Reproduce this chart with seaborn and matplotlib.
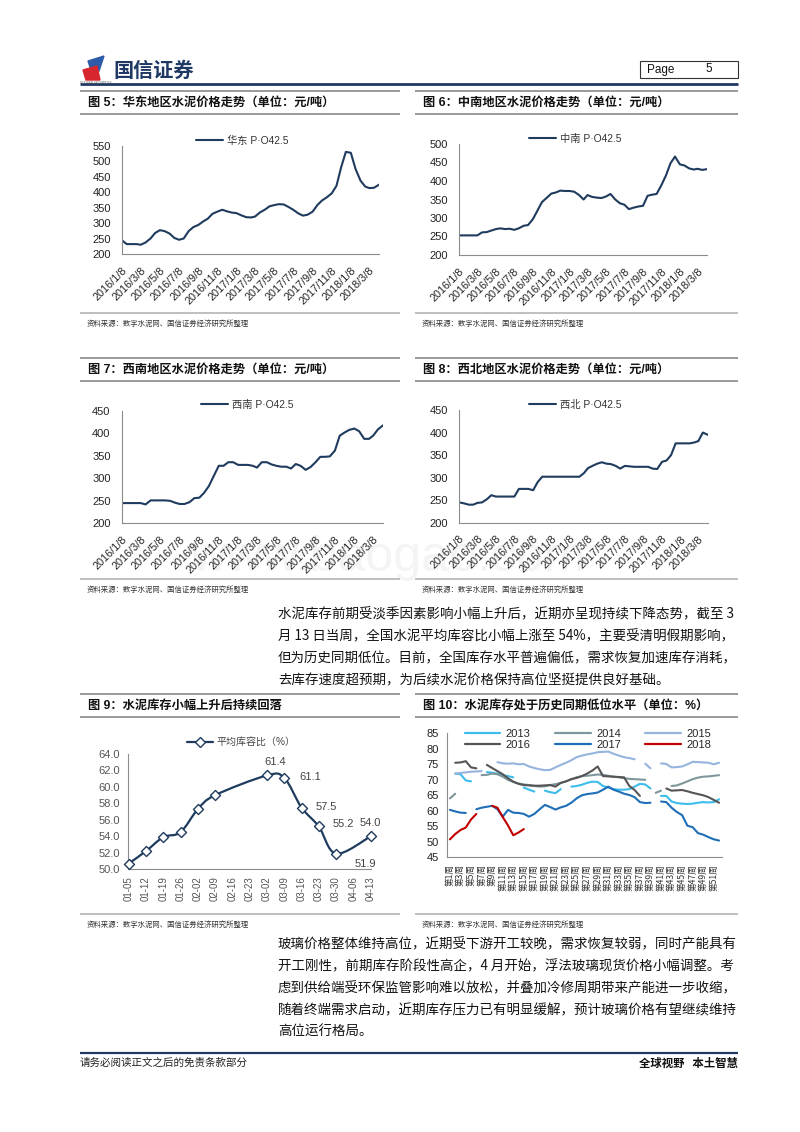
import numpy as np
import pandas as pd
import matplotlib
matplotlib.use("Agg")
import matplotlib.pyplot as plt
from matplotlib.lines import Line2D
from matplotlib.patches import Rectangle, Polygon, PathPatch
from matplotlib.path import Path
import seaborn as sns

sns.set_theme(style="white")
plt.rcParams['font.family'] = ['Liberation Sans', 'Noto Sans CJK SC', 'DejaVu Sans']
plt.rcParams['axes.unicode_minus'] = False

nan = np.nan

# ---------------- data ----------------
PRICE_DATES = [f"{y}-{m:02d}-{d:02d}" for y in (2016, 2017, 2018) for m in range(1, 13)
               for d in (8, 23) if (y, m) <= (2018, 3)] + ["2018-04-08"]
TICK_DATES = [f"{y}-{m:02d}-08" for y in (2016, 2017, 2018) for m in (1, 3, 5, 7, 9, 11)
              if (y, m) <= (2018, 3)]

EAST = [244, 232, 232, 232, 230, 237, 250, 268, 277, 274, 266, 252, 246, 250, 274, 287, 294, 305, 314, 330, 337, 343, 338, 334,
        332, 325, 319, 318, 321, 334, 343, 354, 358, 361, 360, 352, 343, 332, 324, 327, 337, 358, 373, 383, 396, 420, 480, 530,
        527, 475, 437, 418, 413, 414, 424]
CENTRAL_SOUTH = [253, 253, 253, 253, 253, 261, 262, 266, 270, 272, 270, 271, 268, 272, 279, 281, 297, 320, 343, 354, 366, 369, 374, 373,
                 373, 371, 362, 350, 362, 357, 355, 354, 358, 365, 350, 340, 336, 324, 328, 331, 333, 360, 363, 365, 389, 415, 448, 466,
                 445, 442, 434, 431, 433, 430, 432]
SOUTHWEST = [245, 245, 245, 245, 245, 242, 251, 251, 251, 251, 250, 246, 243, 243, 247, 256, 257, 268, 283, 305, 328, 328, 336, 336,
             330, 330, 330, 328, 324, 336, 336, 331, 328, 326, 326, 322, 332, 328, 319, 325, 336, 348, 348, 349, 362, 395, 402, 408,
             411, 405, 388, 388, 395, 409, 418]
NORTHWEST = [245, 243, 240, 240, 244, 245, 252, 261, 258, 258, 258, 258, 258, 275, 275, 275, 272, 290, 302, 302, 302, 302, 302, 302,
             302, 302, 302, 310, 321, 326, 331, 334, 331, 330, 326, 320, 326, 325, 324, 324, 324, 324, 320, 319, 335, 338, 350, 376,
             376, 376, 376, 378, 381, 400, 395]

INV_DATES = ['01-05', '01-12', '01-19', '01-26', '02-02', '02-09', '02-16', '02-23',
             '03-02', '03-09', '03-16', '03-23', '03-30', '04-06', '04-13']
INV_RATIO = [50.7, 52.2, 53.9, 54.5, 57.3, 59.0, nan, nan, 61.4, 61.1, 57.5, 55.2, 51.9, nan, 54.0]

WEEKS = list(range(1, 53))
YEARS = ['2013', '2014', '2015', '2016', '2017', '2018']
CAP_2013 = [nan, 72.0, 71.8, 69.8, 69.5, nan, nan, 72.5, 72.3, 72.0, 71.5, 71.2, 70.8, nan, 67.5, 66.8, 66.2, nan,
            66.5, 66.0, 65.7, 67.0, nan, 67.8, 68.0, 68.4, 69.0, 69.4, 69.3, 68.0, 67.5, 67.0, 66.8, 66.8, 67.0, 67.8,
            68.7, 68.5, 67.2, nan, 64.8, 64.8, 63.0, 62.5, 62.3, 62.2, 62.3, 62.6, 62.8, 62.7, 62.8, 63.7]
CAP_2014 = [64.0, 65.5, nan, nan, nan, nan, 71.5, 71.6, 72.0, 71.8, 71.0, 70.0, 69.3, 68.8, 68.5, 68.3, 68.0, 67.8,
            67.9, 68.3, 68.6, 69.0, 69.5, 70.2, 70.8, 71.2, 71.3, 71.5, 71.7, 71.6, 71.3, 71.0, 70.8, 70.5, 70.3, 70.2,
            70.1, 70.0, nan, 65.8, 66.5, nan, 68.0, 68.2, 68.8, 69.5, 70.2, 70.7, 71.0, 71.1, 71.3, 71.5]
CAP_2015 = [nan, 72.0, 72.2, 72.4, 72.6, 72.7, 72.8, nan, nan, 75.7, 75.3, 75.2, 75.3, 75.0, 75.1, 74.3, 73.8, 73.4,
            73.1, 73.2, 74.0, 74.8, 75.5, 76.3, 77.3, 77.8, 78.2, 78.5, 78.9, 79.0, 79.1, 78.4, 77.8, 77.3, 77.0, 76.6,
            nan, 75.2, 73.7, nan, 75.3, 75.1, 74.0, 74.1, 74.3, 75.0, 75.8, 75.7, 75.6, 75.5, 75.0, 75.5]
CAP_2016 = [nan, 75.5, 75.6, 76.0, 74.0, 73.7, nan, 74.8, 73.8, 72.8, 71.8, 70.5, 69.4, 68.7, 68.3, 68.2, 68.1, 68.1,
            68.2, 68.3, 67.8, 69.0, 69.5, 70.2, 70.6, 71.2, 72.0, 73.0, 74.3, 71.2, 71.1, 71.0, 70.9, 70.8, 68.0, 66.7,
            64.8, nan, nan, nan, nan, 67.2, 66.5, 66.6, 66.7, 66.3, 65.8, 65.4, 65.0, 64.4, 63.5, 62.6]
CAP_2017 = [60.3, 59.8, 59.4, 59.3, nan, 60.5, 61.0, 61.3, 61.6, 60.5, 58.1, 60.3, 59.4, 59.3, 59.0, 58.1, 59.0, 60.5,
            61.9, 61.2, 60.4, 61.1, 61.6, 62.6, 64.0, 65.0, 65.4, 65.6, 65.9, 66.8, 67.8, 66.8, 66.2, 65.5, 65.1, 64.4,
            62.8, 62.5, 62.6, nan, 63.0, 62.8, 61.0, 59.6, 58.6, 55.2, 54.7, 52.8, 52.3, 51.5, 50.8, 50.4]
CAP_2018 = [50.8, 52.5, 53.8, 54.6, 57.2, 59.0, nan, nan, 61.6, 61.0, 58.0, 55.3, 52.1, 53.0, 54.1] + [nan] * 37
CAP_COLORS = ['#3DBDEB', '#7F979C', '#96B4DE', '#555555', '#1F6EB8', '#C00000']

NAVY = '#1F3B5E'

PARA1 = ["水泥库存前期受淡季因素影响小幅上升后，近期亦呈现持续下降态势，截至 3",
         "月 13 日当周，全国水泥平均库容比小幅上涨至 54%，主要受清明假期影响，",
         "但为历史同期低位。目前，全国库存水平普遍偏低，需求恢复加速库存消耗，",
         "去库存速度超预期，为后续水泥价格保持高位坚挺提供良好基础。"]
PARA2 = ["玻璃价格整体维持高位，近期受下游开工较晚，需求恢复较弱，同时产能具有",
         "开工刚性，前期库存阶段性高企，4 月开始，浮法玻璃现货价格小幅调整。考",
         "虑到供给端受环保监管影响难以放松，并叠加冷修周期带来产能进一步收缩，",
         "随着终端需求启动，近期库存压力已有明显缓解，预计玻璃价格有望继续维持",
         "高位运行格局。"]
SOURCE = "资料来源：数字水泥网、国信证券经济研究所整理"

# ---------------- figure helpers ----------------
W, H = 800, 1132
fig = plt.figure(figsize=(W / 100, H / 100), dpi=100)
fig.patch.set_facecolor('white')


def fy(y):
    return 1 - y / H


def axes_px(x0, y0, x1, y1):
    return fig.add_axes([x0 / W, 1 - y1 / H, (x1 - x0) / W, (y1 - y0) / H])


def hline(x0, x1, y, color, lw):
    fig.add_artist(Line2D([x0 / W, x1 / W], [fy(y), fy(y)], transform=fig.transFigure,
                          color=color, lw=lw, solid_capstyle='butt'))


def ftext(x, y, s, **kw):
    fig.text(x / W, fy(y), s, **kw)


def style_axes(ax, ycolor='#222222'):
    for side in ('top', 'right'):
        ax.spines[side].set_visible(False)
    for side in ('left', 'bottom'):
        ax.spines[side].set_color('#8C8C8C')
        ax.spines[side].set_linewidth(0.8)
    ax.tick_params(axis='both', which='major', direction='out', length=3, width=0.8,
                   color='#8C8C8C', pad=2)
    ax.tick_params(axis='y', labelsize=8, labelcolor=ycolor, pad=3)
    ax.set_xlabel('')
    ax.set_ylabel('')
    ax.grid(False)
    ax.set_facecolor('white')


# ---------------- header / footer ----------------
fig.add_artist(Polygon([(88 / W, fy(61)), (104 / W, fy(56)), (99 / W, fy(71)), (91 / W, fy(70))],
                       closed=True, transform=fig.transFigure, color='#2E5BA8'))
fig.add_artist(Polygon([(83 / W, fy(70)), (97 / W, fy(66)), (100 / W, fy(80)), (86 / W, fy(80))],
                       closed=True, transform=fig.transFigure, color='#D8262E'))
ftext(113, 70, "国信证券", fontsize=14.5, fontweight='bold', color='#1F3864',
      family=['Noto Sans CJK SC'], va='center', ha='left')
ftext(80, 82.5, "GUOSEN SECURITIES", fontsize=2.2, color='#555555', va='center', ha='left')
fig.add_artist(Rectangle((640 / W, fy(78)), 98 / W, 17 / H, transform=fig.transFigure,
                         fill=False, edgecolor='#333333', lw=0.8))
ftext(647, 69.5, "Page", fontsize=8.5, va='center', ha='left', color='#111111')
ftext(705, 69.5, "5", fontsize=8.5, va='center', ha='left', color='#111111')
hline(80, 738, 84, '#1F3864', 2.0)

hline(80, 738, 1053, '#1F3864', 1.6)
ftext(80, 1063, "请务必阅读正文之后的免责条款部分", fontsize=7.6, va='center', ha='left', color='#222222',
      family=['Noto Sans CJK SC'])
ftext(738, 1063, "全球视野   本土智慧", fontsize=8.2, va='center', ha='right', color='#111111',
      family=['Noto Sans CJK SC'], fontweight='bold', style='italic')

# watermark (faint, behind the lower price charts)
ftext(190, 571, "www.baogao.com", fontsize=36, color='#EDEDED', alpha=0.6, va='baseline', ha='left',
      zorder=-5)

# ---------------- chart frames ----------------
def frame(x0, x1, ytop, title, ysrc):
    hline(x0, x1, ytop, '#9A9A9A', 1.4)
    hline(x0, x1, ytop + 23, '#9A9A9A', 1.4)
    ftext(x0 + 8, ytop + 11.5, title, fontsize=8.8, fontweight='bold', va='center', ha='left',
          color='#111111')
    hline(x0, x1, ysrc, '#BFBFBF', 1.4)
    ftext(x0 + 7, ysrc + 11, SOURCE, fontsize=5.3, va='center', ha='left', color='#333333',
          family=['Noto Sans CJK SC'])


frame(80, 400, 91, "图 5：华东地区水泥价格走势（单位：元/吨）", 313)
frame(415, 738, 91, "图 6：中南地区水泥价格走势（单位：元/吨）", 313)
frame(80, 400, 358, "图 7：西南地区水泥价格走势（单位：元/吨）", 579)
frame(415, 738, 358, "图 8：西北地区水泥价格走势（单位：元/吨）", 579)
frame(80, 400, 694, "图 9：水泥库存小幅上升后持续回落", 914)
frame(415, 738, 694, "图 10：水泥库存处于历史同期低位水平（单位：%）", 914)

# ---------------- price charts ----------------
def price_chart(box, values, label, ylim, step, legend_center):
    ax = axes_px(*box)
    df = pd.DataFrame({'date': pd.to_datetime(PRICE_DATES), 'price': values})
    sns.lineplot(data=df, x='date', y='price', ax=ax, color=NAVY, lw=1.5, label=label)
    ax.set_xlim(pd.Timestamp(PRICE_DATES[0]), pd.Timestamp(PRICE_DATES[-1]))
    ax.set_ylim(*ylim)
    ax.set_yticks(np.arange(ylim[0], ylim[1] + 1, step))
    tks = pd.to_datetime(TICK_DATES)
    ax.set_xticks(tks)
    ax.set_xticklabels([f"{d.year}/{d.month}/{d.day}" for d in tks], rotation=45, ha='right',
                       rotation_mode='anchor', fontsize=7.8, color='#222222')
    style_axes(ax)
    ax.tick_params(axis='x', pad=5)
    ax.tick_params(axis='y', pad=5)
    ax.legend(loc='center', bbox_to_anchor=(legend_center[0] / W, fy(legend_center[1])),
              bbox_transform=fig.transFigure, frameon=False, fontsize=7.4, handlelength=2.6,
              handletextpad=0.4, borderpad=0, labelcolor='#333333')
    return ax


price_chart((122, 145.7, 379, 254), EAST, "华东 P·O42.5", (200, 550), 50, (242, 141))
price_chart((459.3, 144, 707, 255), CENTRAL_SOUTH, "中南 P·O42.5", (200, 500), 50, (575, 139))
price_chart((121.7, 411, 383, 523.3), SOUTHWEST, "西南 P·O42.5", (200, 450), 50, (247, 405))
price_chart((459.3, 410, 707.7, 522.7), NORTHWEST, "西北 P·O42.5", (200, 450), 50, (575, 405))

# ---------------- chart 9: inventory ratio ----------------
ax9 = axes_px(128.3, 754, 371, 869.3)
inv = pd.DataFrame({'idx': np.arange(len(INV_DATES)), 'date': INV_DATES, 'ratio': INV_RATIO}).dropna()
xs = inv['idx'].to_numpy(dtype=float)
ys = inv['ratio'].to_numpy(dtype=float)
# smoothed (Excel-style) curve through the observed points
verts = [(xs[0], ys[0])]
codes = [Path.MOVETO]
n = len(xs)
for i in range(n - 1):
    p0 = np.array([xs[max(i - 1, 0)], ys[max(i - 1, 0)]])
    p1 = np.array([xs[i], ys[i]])
    p2 = np.array([xs[i + 1], ys[i + 1]])
    p3 = np.array([xs[min(i + 2, n - 1)], ys[min(i + 2, n - 1)]])
    c1 = p1 + (p2 - p0) / 6.0
    c2 = p2 - (p3 - p1) / 6.0
    verts += [tuple(c1), tuple(c2), tuple(p2)]
    codes += [Path.CURVE4] * 3
ax9.add_patch(PathPatch(Path(verts, codes), facecolor='none', edgecolor=NAVY, lw=1.6, zorder=2))
sns.scatterplot(data=inv, x='idx', y='ratio', ax=ax9, marker='D', s=26, facecolor='white',
                edgecolor=NAVY, linewidth=1.0, zorder=3, clip_on=False)
ax9.set_xlim(-0.02, 14.02)
ax9.set_ylim(50, 64)
ax9.set_yticks(np.arange(50, 64.1, 2))
ax9.set_yticklabels([f"{v:.1f}" for v in np.arange(50, 64.1, 2)])
ax9.set_xticks(np.arange(len(INV_DATES)))
ax9.set_xticklabels(INV_DATES, rotation=90, fontsize=7, color='#555555', va='top', ha='center')
style_axes(ax9, ycolor='#555555')
label_offsets = {8: (6, 6), 9: (11, 0.5), 10: (10.5, 0.5), 11: (10, 2), 12: (13.5, -3.5), 14: (0, 6)}
for i, (dx, dy) in label_offsets.items():
    ax9.annotate(f"{INV_RATIO[i]:.1f}", (i, INV_RATIO[i]), xytext=(dx, dy), textcoords='offset points',
                 ha='left' if dx > 8 else 'center', va='bottom' if dy > 4 else ('top' if dy < -2 else 'center'),
                 fontsize=8, color='#444444', annotation_clip=False)
h9 = Line2D([], [], color=NAVY, lw=1.6, marker='D', markersize=5, markerfacecolor='white',
            markeredgecolor=NAVY)
ax9.legend([h9], ["平均库容比（%）"], loc='center', bbox_to_anchor=(241 / W, fy(742)),
           bbox_transform=fig.transFigure, frameon=False, fontsize=7.2, handlelength=2.6,
           handletextpad=0.4, borderpad=0, labelcolor='#444444')

# ---------------- chart 10: capacity ratio by week ----------------
ax10 = axes_px(447.3, 733.3, 721.7, 857.3)
rows = []
for year, vals in zip(YEARS, [CAP_2013, CAP_2014, CAP_2015, CAP_2016, CAP_2017, CAP_2018]):
    seg, gap = 0, True
    for w, v in zip(WEEKS, vals):
        if np.isnan(v):
            gap = True
            continue
        if gap:
            seg += 1
            gap = False
        rows.append((year, w, v, f"{year}-{seg}"))
cap = pd.DataFrame(rows, columns=['year', 'week', 'ratio', 'seg'])
pal = dict(zip(YEARS, CAP_COLORS))
sns.lineplot(data=cap, x='week', y='ratio', hue='year', units='seg', estimator=None, palette=pal,
             lw=1.5, ax=ax10, legend=False, sort=True)
ax10.set_xlim(0.5, 52.5)
ax10.set_ylim(45, 85)
ax10.set_yticks(np.arange(45, 86, 5))
odd = [w for w in WEEKS if w % 2 == 1]
ax10.set_xticks(odd)
ax10.set_xticklabels([f"第{w}周" for w in odd], rotation=90, fontsize=6.2, color='#333333',
                     va='top', ha='center', family=['Noto Sans CJK SC'])
style_axes(ax10)
order = [0, 3, 1, 4, 2, 5]
handles = [Line2D([], [], color=CAP_COLORS[i], lw=1.6) for i in order]
ax10.legend(handles, [YEARS[i] for i in order], ncol=3, loc='center',
            bbox_to_anchor=(588 / W, fy(739.5)), bbox_transform=fig.transFigure, frameon=False,
            fontsize=8, handlelength=3.2, handletextpad=0.5, columnspacing=2.2, labelspacing=0.15,
            borderpad=0)

# ---------------- body text ----------------
for i, line in enumerate(PARA1):
    ftext(278, 614 + 22 * i, line, fontsize=9.7, va='center', ha='left', color='#111111',
          family=['Noto Sans CJK SC'])
for i, line in enumerate(PARA2):
    ftext(278, 944 + 22 * i, line, fontsize=9.7, va='center', ha='left', color='#111111',
          family=['Noto Sans CJK SC'])

fig.savefig("out.png", dpi=100, facecolor='white')
